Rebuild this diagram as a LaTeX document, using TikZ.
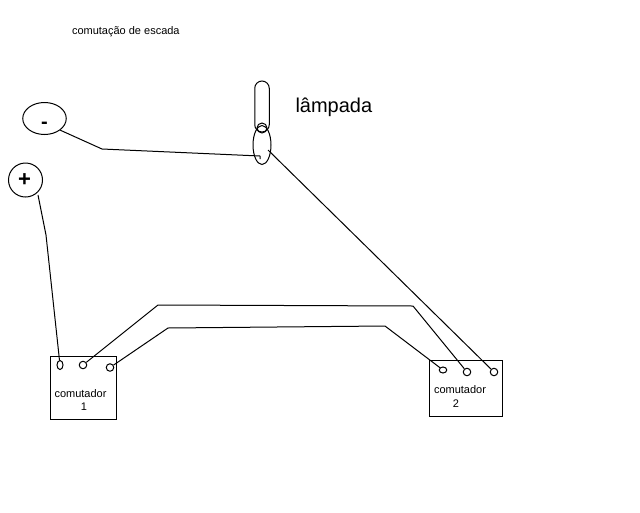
\documentclass[tikz,border=0pt]{standalone}
\usepackage{fontspec}
\setmainfont{Liberation Sans}
\usetikzlibrary{shapes.geometric,shapes.misc}
\tikzset{
  every path/.style={line width=1pt},
  outline/.style={draw=black,line width=1pt,inner sep=0pt,minimum size=0pt},
  pole/.style={outline,ellipse},
  terminal/.style={outline,circle,minimum size=7.5pt},
  switchbox/.style={outline,rectangle},
  label/.style={inner sep=0pt,font=\fontsize{11pt}{13pt}\selectfont},
  wire/.style={draw=black,line width=1pt,line join=round}
}
\begin{document}
\begin{tikzpicture}[x=1pt,y=-1pt]
\useasboundingbox[fill=white] (0,0) rectangle (640,512);
\node[label,anchor=west] (title) at (71.5,31.5) {comutação de escada};
\node[inner sep=0pt,anchor=west,font=\fontsize{20pt}{24pt}\selectfont] (lamplabel) at (295,107) {lâmpada};
\node[pole,minimum width=43.5pt,minimum height=32pt] (minus) at (44.5,118.5) {};
\node[inner sep=0pt,font=\bfseries\fontsize{20pt}{24pt}\selectfont] (minussign) at (44.5,125) {-};
\node[pole,minimum width=34pt,minimum height=34pt] (plus) at (25.5,180) {};
\node[inner sep=0pt,font=\bfseries\fontsize{22pt}{26pt}\selectfont] (plussign) at (24.5,180) {+};
\node[outline,rounded rectangle,rotate=90,minimum width=51pt,minimum height=14.5pt] (tube) at (262,106.5) {};
\node[terminal,minimum size=10pt] (base) at (262,128) {};
\node[pole,minimum width=18pt,minimum height=39pt] (bulb) at (262,145) {};
\node[switchbox,minimum width=66pt,minimum height=63pt] (sw1) at (83.5,387.5) {};
\node[switchbox,minimum width=72.5pt,minimum height=56pt] (sw2) at (465.75,388) {};
\node[label] (sw1a) at (80.5,393.5) {comutador};
\node[label] (sw1b) at (84,407) {1};
\node[label] (sw2a) at (460,389.5) {comutador};
\node[label] (sw2b) at (456,403.5) {2};
\node[pole,minimum width=6pt,minimum height=9pt] (a1) at (60,365) {};
\node[terminal] (a2) at (83,365) {};
\node[terminal] (a3) at (110,367.5) {};
\node[pole,minimum width=7.5pt,minimum height=6pt] (b1) at (443,370) {};
\node[terminal] (b2) at (467,372) {};
\node[terminal] (b3) at (494,372) {};
\coordinate (m1) at (102,149);
\coordinate (m2) at (260,156);
\coordinate (m3) at (260,159);
\coordinate (lampin) at (268,150);
\coordinate (p0) at (38,195);
\coordinate (p1) at (46,235);
\coordinate (h1) at (158,305);
\coordinate (h2) at (413,306);
\coordinate (l1) at (168,328);
\coordinate (l2) at (385,326);
\draw[wire] (minus.south east) -- (m1) -- (m2) -- (m3);
\draw[wire] (lampin) -- (b3);
\draw[wire] (p0) -- (p1) -- (a1);
\draw[wire] (a2) -- (h1) -- (h2) -- (b2);
\draw[wire] (a3) -- (l1) -- (l2) -- (b1);
\end{tikzpicture}
\end{document}
